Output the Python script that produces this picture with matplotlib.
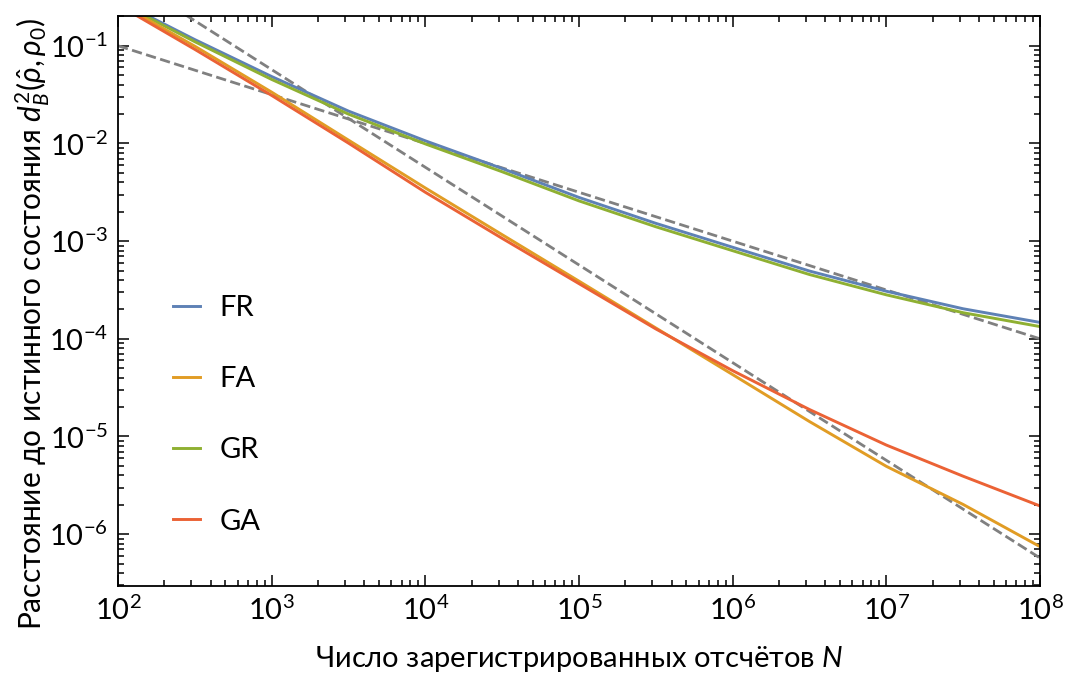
import numpy as np
import matplotlib
matplotlib.use("Agg")
from matplotlib import pyplot as plt

# число отсчётов (полудекады)
n_counts = [1e2, 3.162e2, 1e3, 3.162e3, 1e4, 3.162e4, 1e5,
            3.162e5, 1e6, 3.162e6, 1e7, 3.162e7, 1e8]

# расстояния d_B^2 для каждой схемы
fr_vals = [0.290, 0.1156, 0.0484, 0.02143, 0.01064, 0.005534, 0.002799,
           0.001521, 0.000865, 0.000494, 0.000307, 0.000203, 0.0001472]
fa_vals = [0.275, 0.0989, 0.0335, 0.01081, 0.00350, 0.001164, 0.000389,
           0.0001291, 4.30e-5, 1.422e-5, 4.95e-6, 2.014e-6, 7.45e-7]
gr_vals = [0.282, 0.1100, 0.0452, 0.01995, 0.00989, 0.00513, 0.002582,
           0.001403, 0.000798, 0.000455, 0.000282, 0.000185, 0.0001334]
ga_vals = [0.263, 0.0918, 0.0310, 0.01007, 0.003162, 0.001067, 0.000367,
           0.0001262, 4.72e-5, 1.888e-5, 8.17e-6, 3.92e-6, 1.945e-6]

labels = ["FR", "FA", "GR", "GA"]
colors = ["#5E81B5", "#E19C24", "#8FB032", "#EB6235"]

# асимптоты 1/sqrt(N) и c/N
ref_n = [1e2, 1e8]
ref_sqrt = [0.1, 1e-4]
ref_inv = [0.57, 5.7e-7]

plt.rcParams['font.family'] = ['Lato', 'DejaVu Sans']
plt.rcParams['mathtext.fontset'] = 'custom'
plt.rcParams['mathtext.rm'] = 'Lato'
plt.rcParams['mathtext.it'] = 'Lato:italic'
plt.rcParams['mathtext.bf'] = 'Lato:bold'

fig = plt.figure(figsize=(10.68, 6.75), dpi=100)
ax = fig.add_axes([0.1105, 0.1319, 0.8633, 0.8448])

ax.plot(ref_n, ref_sqrt, '--', color='#808080', lw=2)
ax.plot(ref_n, ref_inv, '--', color='#808080', lw=2)

series = [fr_vals, fa_vals, gr_vals, ga_vals]
order = [0, 2, 1, 3]
lines = {}
for i in order:
    ln, = ax.plot(n_counts, series[i], color=colors[i], lw=2.1, label=labels[i])
    lines[i] = ln

ax.set_xscale('log')
ax.set_yscale('log')
ax.set_xlim(1e2, 1e8)
ax.set_ylim(2.95e-7, 0.203)

ax.tick_params(which='both', direction='in', top=True, right=True, labelsize=21, width=1.1)
ax.tick_params(which='major', length=8, pad=7)
ax.tick_params(which='minor', length=4.5)
for sp in ax.spines.values():
    sp.set_linewidth(1.3)

ax.set_xlabel("Число зарегистрированных отсчётов $N$", fontsize=21, labelpad=14)
ax.set_ylabel(r"Расстояние до истинного состояния $d_B^2(\hat{\rho},\rho_0)$", fontsize=21.5)
ax.yaxis.set_label_coords(-0.072, 0.46)

ax.legend([lines[i] for i in range(4)], labels, loc='center left',
          bbox_to_anchor=(0.044, 0.30), frameon=False, fontsize=21,
          borderpad=0, handlelength=0.93, handletextpad=0.65, labelspacing=1.55)

fig.savefig("out.png", dpi=100)
